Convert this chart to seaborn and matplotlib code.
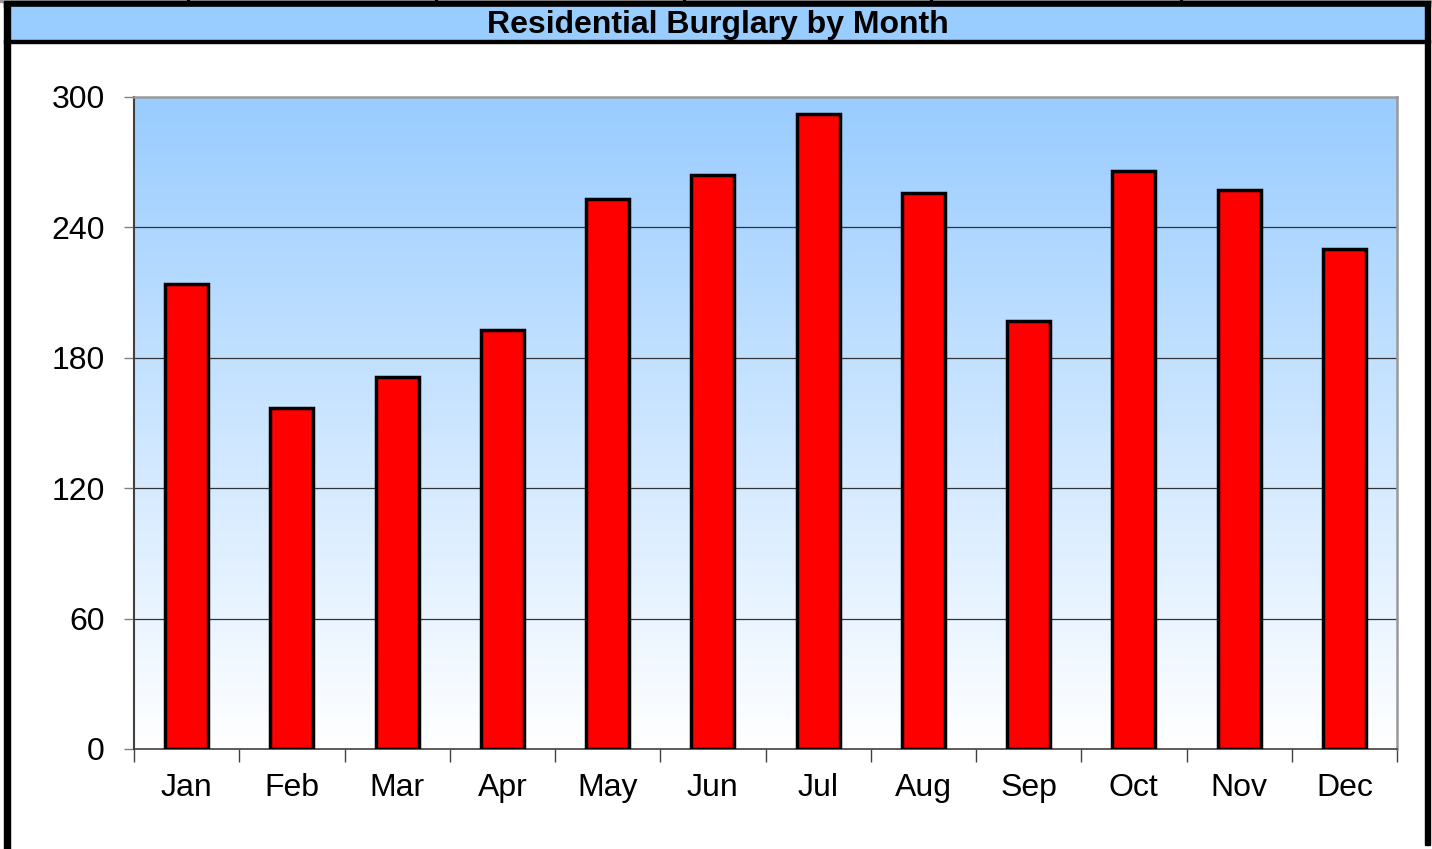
import numpy as np
import pandas as pd
import matplotlib
matplotlib.use("Agg")
import matplotlib.pyplot as plt
from matplotlib.patches import Rectangle
from matplotlib.colors import LinearSegmentedColormap
import seaborn as sns

# data
months = ["Jan", "Feb", "Mar", "Apr", "May", "Jun",
          "Jul", "Aug", "Sep", "Oct", "Nov", "Dec"]
burglaries = [214, 157, 171, 193, 253, 264, 292, 256, 197, 266, 257, 230]
y_ticks = [0, 60, 120, 180, 240, 300]

df = pd.DataFrame({"month": months, "count": burglaries})

sns.set_style("white")
plt.rcParams["font.family"] = ["Liberation Sans", "DejaVu Sans"]
plt.rcParams["text.color"] = "black"
plt.rcParams["xtick.color"] = "black"
plt.rcParams["ytick.color"] = "black"
plt.rcParams["xtick.labelcolor"] = "black"
plt.rcParams["ytick.labelcolor"] = "black"

W, H = 1432, 849
fig = plt.figure(figsize=(W / 100, H / 100), dpi=100)

# plot area in pixels: left 134, right 1397, top 97, bottom 749
ax = fig.add_axes([134 / W, 1 - 749 / H, (1397 - 134) / W, (749 - 97) / H])

# gradient background (light blue at top fading to white)
cmap = LinearSegmentedColormap.from_list("bg", ["#FFFFFF", "#99CCFF"])
grad = np.linspace(0, 1, 256).reshape(-1, 1)
ax.imshow(grad, extent=[0, 1, 0, 1], transform=ax.transAxes, origin="lower",
          cmap=cmap, aspect="auto", zorder=0)

sns.barplot(data=df, x="month", y="count", color="#FF0000", width=0.41,
            edgecolor="black", linewidth=2.5, saturation=1, ax=ax, zorder=3)

ax.set_xlim(-0.5, 11.5)
ax.set_ylim(0, 300)
ax.set_yticks(y_ticks)
ax.set_yticklabels([str(t) for t in y_ticks], fontsize=23)
ax.set_xlabel("")
ax.set_ylabel("")
ax.tick_params(axis="x", which="major", labelsize=23, length=0, pad=17)
ax.tick_params(axis="y", left=True, length=7, width=1, color="#808080",
               direction="out", pad=14)

# category boundary ticks on the x axis
ax.set_xticks(np.arange(-0.5, 12, 1), minor=True)
ax.tick_params(axis="x", which="minor", bottom=True, length=9, width=1,
               color="#404040", direction="out")

for t in y_ticks[1:-1]:
    ax.axhline(t, color="#333333", linewidth=0.9, zorder=1)

for s in ax.spines.values():
    s.set_visible(True)
    s.set_linewidth(1.8)
ax.spines["left"].set_color("#404040")
ax.spines["bottom"].set_color("#404040")
ax.spines["top"].set_color("#999999")
ax.spines["right"].set_color("#999999")
ax.spines["left"].set_linewidth(1.5)
ax.spines["bottom"].set_linewidth(1.2)

# outer frame and title band
def px_rect(x0, y0, x1, y1, **kw):
    fig.patches.append(Rectangle((x0 / W, 1 - y1 / H), (x1 - x0) / W, (y1 - y0) / H,
                                 transform=fig.transFigure, **kw))

px_rect(0, 0, W, 1.5, color="#999999")
px_rect(4, 1.5, 1430, 7, color="black")
px_rect(10, 7, 1425, 40, color="#99CCFF")
px_rect(4, 40, 1430, 43, color="black")
px_rect(4, 1.5, 10, H, color="black")
px_rect(1425, 1.5, 1430, 845, color="black")
for xs in [187, 435, 683, 930, 1180]:
    px_rect(xs, 0, xs + 2, 2, color="black")

fig.text(718 / W, 1 - 25 / H, "Residential Burglary by Month", ha="center", va="center",
         fontsize=23, fontweight="bold", color="black")

fig.savefig("out.png", dpi=100)
